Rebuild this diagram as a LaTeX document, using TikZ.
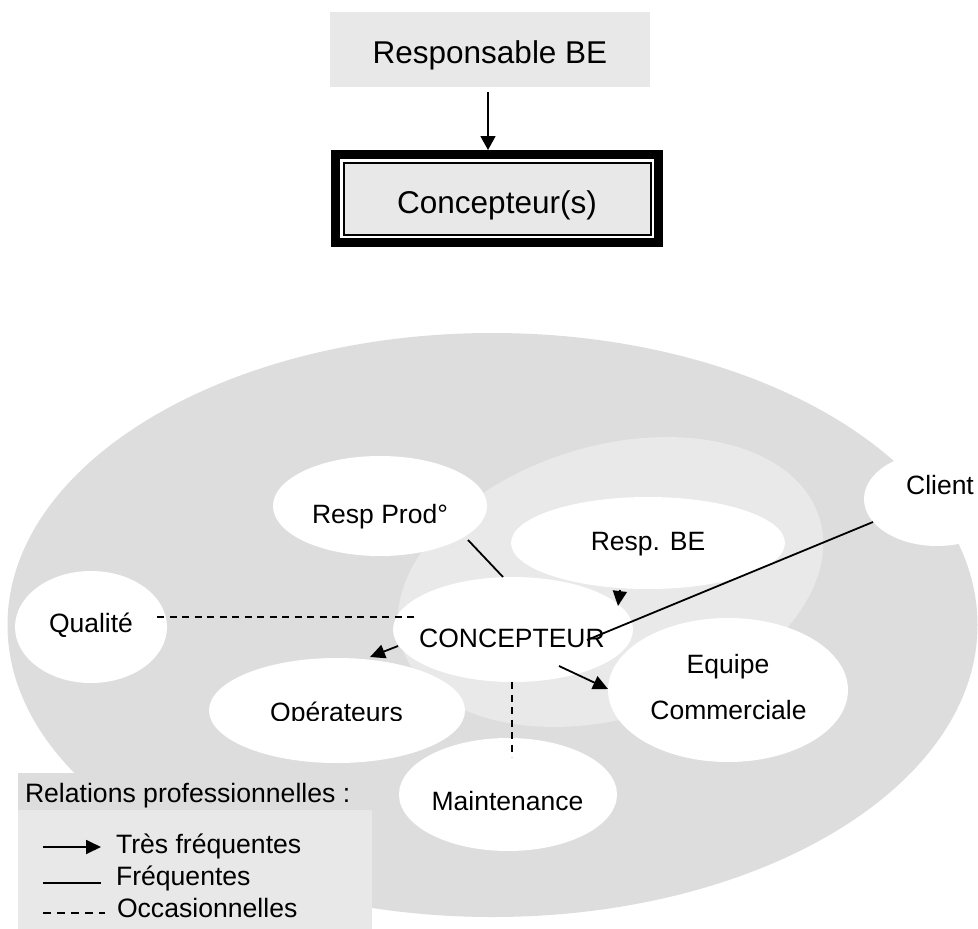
\documentclass[tikz,border=0pt]{standalone}
\usepackage{fontspec}
\setmainfont{Liberation Sans}
\usetikzlibrary{shapes.geometric,arrows.meta,calc}
\definecolor{outerg}{HTML}{DDDDDD}
\definecolor{innerg}{HTML}{E9E9E9}
\definecolor{boxg}{HTML}{E8E8E8}
\tikzset{
  bub/.style={ellipse, fill=white, inner sep=0pt, outer sep=0pt},
  lbl/.style={font=\fontsize{26.5}{30}\selectfont, inner sep=0pt, outer sep=0pt, anchor=base},
  biglbl/.style={font=\fontsize{31.5}{36}\selectfont, inner sep=0pt, outer sep=0pt, anchor=base},
  leglbl/.style={font=\fontsize{26.6}{30}\selectfont, inner sep=0pt, outer sep=0pt, anchor=base west},
  vf/.style={line width=1.8pt, -{Triangle[length=15pt,width=14pt]}},
  fr/.style={line width=1.8pt},
  occ/.style={line width=1.8pt, dash pattern=on 7pt off 5.5pt},
}
\begin{document}
\begin{tikzpicture}[x=1pt,y=-1pt]
\useasboundingbox (0,0) rectangle (978,929);
\clip (0,0) rectangle (978,929);
\fill[white] (0,0) rectangle (978,929);

% top hierarchy
\node[rectangle, fill=boxg, minimum width=320pt, minimum height=75pt, inner sep=0pt, outer sep=0pt] (rbox) at (490,49.5) {};
\node[rectangle, draw=black, fill=white, line width=9pt, minimum width=323pt, minimum height=88pt, inner sep=0pt, outer sep=0pt] (cbox) at (497,198.5) {};
\node[rectangle, draw=black, fill=boxg, line width=2pt, minimum width=307pt, minimum height=72pt, inner sep=0pt, outer sep=0pt] (cin) at (497,198.5) {};
\node[biglbl] (rboxt) at (490,63) {Responsable BE};
\node[biglbl] (cboxt) at (497,213) {Concepteur(s)};
\draw[line width=1.8pt, -{Triangle[length=14pt,width=15pt]}] ($(rbox.south)+(-2,5)$) -- ($(cbox.north)+(-9,-4.5)$);

% big ellipses
\fill[outerg] (492.5,625) ellipse [x radius=485pt, y radius=292pt];
\begin{scope}[shift={(610.5,582)}, rotate=17]
  \fill[innerg] (0,0) ellipse [x radius=218.5pt, y radius=136pt];
\end{scope}

% bubbles
\node[bub, minimum width=214pt, minimum height=100pt] (rp) at (380,506) {};
\node[bub, minimum width=274pt, minimum height=92pt] (rbe) at (648,543) {};
\node[bub, minimum width=146pt, minimum height=94pt] (client) at (937,499) {};
\node[bub, minimum width=152pt, minimum height=112pt] (qual) at (91,627) {};
\node[bub, minimum width=240pt, minimum height=105pt] (conc) at (513,629.5) {};
\node[bub, minimum width=256pt, minimum height=105pt] (op) at (337,710.5) {};
\node[bub, minimum width=218pt, minimum height=113pt] (maint) at (508,794.5) {};
\node[bub, minimum width=240pt, minimum height=144pt] (eq) at (728,690) {};

% legend boxes
\fill[outerg] (18,773) rectangle (372,810);
\fill[boxg] (18,810) rectangle (372,929);

% connectors
\draw[fr] ($(rp.center)+(88,34)$) -- ($(conc.center)+(-10,-52.5)$);
\draw[fr] ($(client.center)+(-64,23)$) -- ($(conc.center)+(74,10.5)$);
\draw[vf] ($(rbe.center)+(-28,47)$) -- ($(conc.center)+(105,-23.5)$);
\draw[vf] ($(conc.center)+(-115,16.5)$) -- ($(op.center)+(33,-53.5)$);
\draw[vf] ($(conc.center)+(46,36.5)$) -- ($(eq.center)+(-120,-1)$);
\draw[occ] ($(qual.center)+(66,-10)$) -- ($(conc.center)+(-96,-12.5)$);
\draw[occ] ($(conc.center)+(-1,52.5)$) -- ($(maint.center)+(4,-37.5)$);

% bubble texts
\node[lbl] (rpt) at (380,523) {Resp Prod°};
\node[lbl] (rbet) at (648,550) {Resp. BE};
\node[lbl] (clientt) at (940,494) {Client};
\node[lbl] (qualt) at (91,632) {Qualité};
\node[lbl] (conct) at (512,647) {CONCEPTEUR};
\begin{scope}
  \clip (200,650) rectangle (480,720.6);
  \node[lbl] (opt) at (336.5,721) {Opérateurs};
\end{scope}
\node[lbl] (maintt) at (507.5,810) {Maintenance};
\node[lbl] (eqt1) at (728,673) {Equipe};
\node[lbl] (eqt2) at (728.5,719) {Commerciale};

% legend
\node[leglbl] (lhead) at (25,802) {Relations professionnelles :};
\coordinate (l1a) at (43,847);
\coordinate (l1b) at (101,847);
\coordinate (l2a) at (43,883);
\coordinate (l2b) at (101,883);
\coordinate (l3a) at (43,913);
\coordinate (l3b) at (105,913);
\draw[line width=1.8pt, -{Triangle[length=15pt,width=14pt]}] (l1a) -- (l1b);
\draw[fr] (l2a) -- (l2b);
\draw[line width=1.8pt, dash pattern=on 7.5pt off 6.5pt] (l3a) -- (l3b);
\node[leglbl] (leg1) at (116,853) {Très fréquentes};
\node[leglbl] (leg2) at (116,885) {Fréquentes};
\node[leglbl] (leg3) at (117,917) {Occasionnelles};
\end{tikzpicture}
\end{document}
